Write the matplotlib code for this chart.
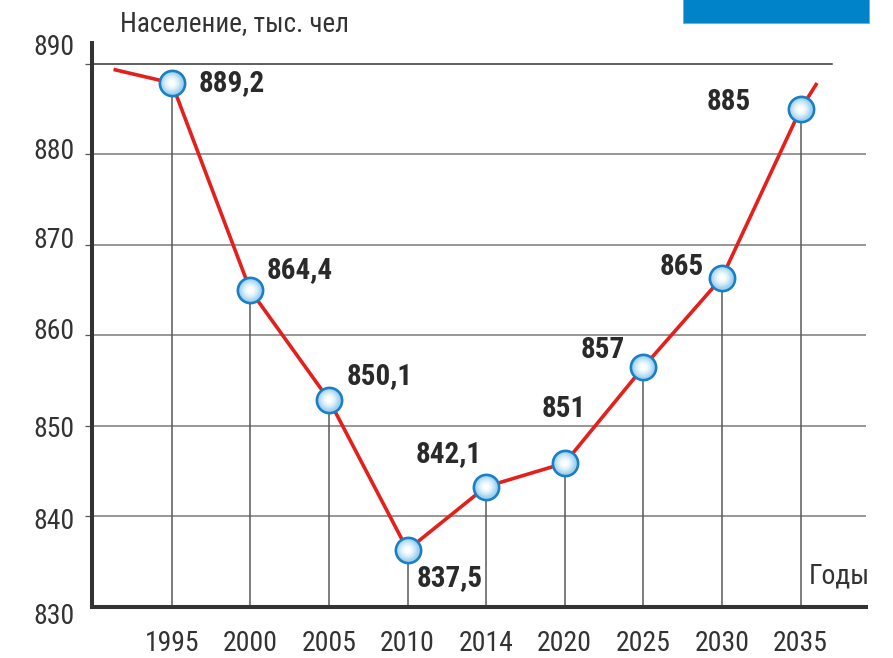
import matplotlib
matplotlib.use("Agg")
import matplotlib.pyplot as plt
from matplotlib import font_manager
from matplotlib.font_manager import FontProperties
from matplotlib.patches import Rectangle
import matplotlib.transforms as mtransforms
import numpy as np

# ---------------- data ----------------
years = ["1995", "2000", "2005", "2010", "2014", "2020", "2025", "2030", "2035"]
# plotted positions of the points
values = [887.9, 865.0, 852.9, 836.3, 843.3, 845.9, 856.5, 866.4, 885.0]
# printed labels
value_labels = ["889,2", "864,4", "850,1", "837,5", "842,1", "851", "857", "865", "885"]
# line tails beyond the first / last point (index position, value)
tail_left = (-0.74, 889.4)
tail_right = (8.21, 887.9)
y_ticks = [830, 840, 850, 860, 870, 880, 890]
y_title = "Население, тыс. чел"
x_title = "Годы"

# ---------------- fonts: look for a condensed face ----------------
def find_face(bold):
    best = None
    for f in font_manager.fontManager.ttflist:
        nm = f.name.lower()
        style_ok = (f.style == "normal")
        isbold = (f.weight in ("bold", 700, "heavy", 800, 900)) or (isinstance(f.weight, int) and f.weight >= 700)
        if not style_ok or isbold != bold:
            continue
        cond = ("narrow" in nm or "condensed" in nm or
                str(f.stretch) in ("condensed", "semi-condensed", "extra-condensed") or
                "condensed" in f.fname.lower() or "narrow" in f.fname.lower())
        if not cond:
            continue
        score = 0
        if "liberation" in nm or "liberation" in f.fname.lower():
            score = 3
        elif "roboto" in nm or "roboto" in f.fname.lower():
            score = 2
        elif "dejavu" in nm or "dejavu" in f.fname.lower():
            score = 1
        if best is None or score > best[0]:
            best = (score, f.fname)
    return best[1] if best else None

reg_file = find_face(False)
bold_file = find_face(True)
if reg_file:
    FP_REG = FontProperties(fname=reg_file)
else:
    FP_REG = FontProperties(family=["Roboto", "DejaVu Sans"])
if bold_file:
    FP_BOLD = FontProperties(fname=bold_file)
else:
    FP_BOLD = FontProperties(family=["Roboto", "DejaVu Sans"], weight="bold")
plt.rcParams["font.family"] = ["Roboto", "DejaVu Sans"]

def fp(base, size):
    p = base.copy()
    p.set_size(size)
    return p

TXT = "#333333"
BOLD = "#2a2a2a"
RED = "#e3201b"
BLUE_EDGE = "#1a7fc4"

fig = plt.figure(figsize=(8.93, 6.58), dpi=100)
ax = fig.add_axes([92 / 893, 51 / 658, 774 / 893, 564 / 658])

x = np.arange(len(years))
ax.set_xlim(-1.014, 8.833)
ax.set_ylim(830, 892.32)

for s in ["top", "right"]:
    ax.spines[s].set_visible(False)
for s in ["left", "bottom"]:
    ax.spines[s].set_linewidth(2.9)
    ax.spines[s].set_color("#333333")
    ax.spines[s].set_zorder(6)

# grid lines
for yv in y_ticks[1:]:
    if yv == 890:
        ax.axhline(yv, xmin=0, xmax=740 / 774, color="#333333", lw=1.1, zorder=1)
    else:
        ax.axhline(yv, xmin=0, xmax=1.0, color="#7a7a7a", lw=1.1, zorder=1)

ax.set_yticks(y_ticks[1:])
ax.tick_params(axis="y", direction="out", length=5, width=0.9, color="#555555",
               labelleft=False)
ax.set_xticks(x)
ax.set_xticklabels(years, fontproperties=fp(FP_REG, 20), color=TXT)
ax.tick_params(axis="x", length=0, pad=16.5)

# y tick labels (drawn as text to match reference placement)
ylab_dy = [-10, -5, -4, 4, 4, 3, 16]  # px, upward positive
trans_y = mtransforms.blended_transform_factory(ax.transAxes, ax.transData)
for yv, d in zip(y_ticks, ylab_dy):
    ax.text(-0.022, yv, str(yv),
            transform=trans_y + mtransforms.ScaledTranslation(0, d / 100, fig.dpi_scale_trans),
            ha="right", va="center", fontproperties=fp(FP_REG, 20), color=TXT, clip_on=False)

# drop lines
ax.vlines(x, 830, values, color="#5a5a5a", lw=1.1, zorder=2)

# red line
lx = [tail_left[0]] + list(x) + [tail_right[0]]
ly = [tail_left[1]] + list(values) + [tail_right[1]]
ax.plot(lx, ly, color=RED, lw=2.6, zorder=3, solid_capstyle="butt", clip_on=False)

# markers with gradient
ax.scatter(x, values, s=330, facecolor="#9fd2f0", edgecolor=BLUE_EDGE, linewidth=1.9, zorder=4)
grad = [(0.8, "#b2dbf3"), (0.6, "#c6e5f7"), (0.4, "#dbeffa"), (0.22, "#eef8fd"), (0.08, "#ffffff")]
for f, c in grad:
    ax.scatter(x, values, s=330 * f * 0.78, facecolor=c, edgecolor="none", zorder=5)

# value labels
lab_spec = [("left", 27, 0), ("left", 16.6, 20.4), ("left", 17.6, 23.7),
            ("left", 9, -28), ("right", -4, 33), ("center", -1, 54),
            ("right", -18, 17.5), ("right", -17.6, 11), ("right", -50, 7)]
for xi, yv, t, (ha, dx, dy) in zip(x, values, value_labels, lab_spec):
    ax.annotate(t, (xi, yv), xytext=(dx * 0.72, dy * 0.72), textcoords="offset points",
                ha=ha, va="center", fontproperties=fp(FP_BOLD, 21), color=BOLD, zorder=7)

# axis titles
fig.text(120 / 893, 1 - 24 / 658, y_title, ha="left", va="center",
         fontproperties=fp(FP_REG, 19.5), color=TXT)
fig.text(870 / 893, 1 - 576 / 658, x_title, ha="right", va="center",
         fontproperties=fp(FP_REG, 20), color=TXT)

# blue block at top right
fig.patches.append(Rectangle((682.7 / 893, 1 - 23.3 / 658), 186.6 / 893, 23.3 / 658 + 0.01,
                             transform=fig.transFigure, facecolor="#0083c9",
                             edgecolor="#5fb0e0", lw=0.6, zorder=0))

fig.savefig("out.png", dpi=100)
